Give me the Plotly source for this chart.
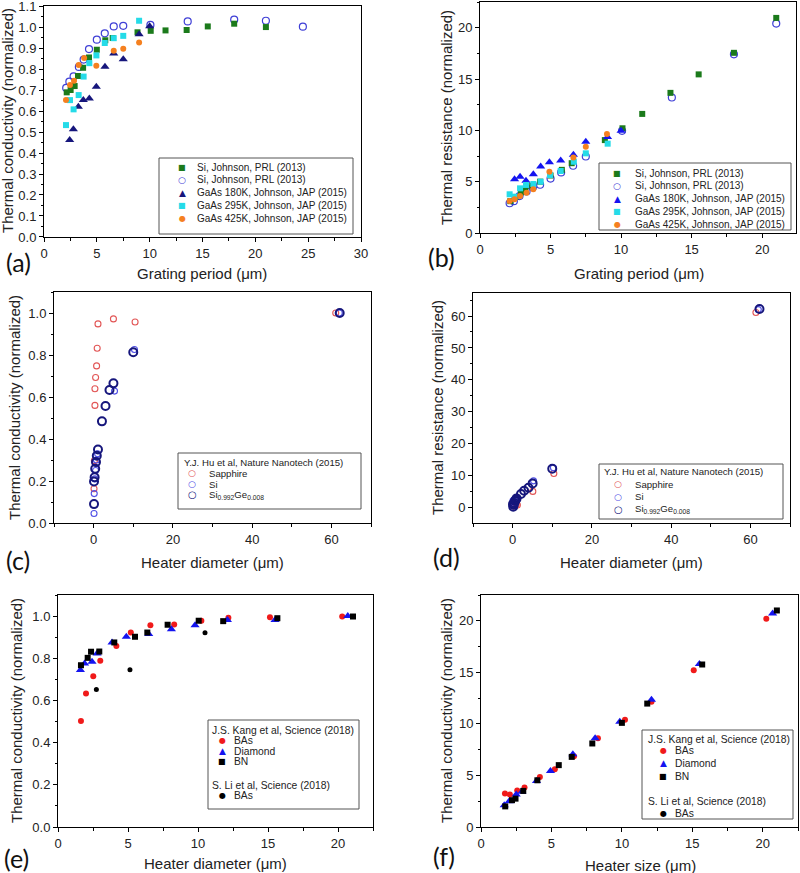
import plotly.graph_objects as go

W, H = 800, 873
FONT = "Arial, Liberation Sans, sans-serif"

# ---------------- data ----------------
# (a) thermal conductivity vs grating period
a_si_sq_x = [2.15, 2.52, 2.9, 3.22, 3.7, 4.26, 5.0, 5.8, 6.5, 8.85, 10.1, 11.5, 13.5, 15.5, 18.0, 21.0]
a_si_sq_y = [0.689, 0.700, 0.719, 0.767, 0.806, 0.855, 0.892, 0.937, 0.948, 0.975, 0.982, 0.984, 0.986, 1.003, 1.016, 1.000]
a_si_oc_x = [2.1, 2.4, 2.8, 3.3, 3.75, 4.26, 5.0, 5.75, 6.6, 7.5, 10.07, 13.6, 18.0, 21.0, 24.5]
a_si_oc_y = [0.710, 0.740, 0.765, 0.810, 0.845, 0.895, 0.940, 0.970, 1.003, 1.006, 1.010, 1.027, 1.035, 1.030, 1.002]
a_g180_x = [2.43, 2.78, 3.25, 3.72, 4.29, 4.95, 5.77, 6.6, 7.5, 9.0, 10.0]
a_g180_y = [0.462, 0.513, 0.620, 0.652, 0.660, 0.716, 0.811, 0.874, 0.847, 0.966, 1.004]
a_g295_x = [2.08, 2.46, 2.8, 3.28, 3.75, 4.29, 4.96, 5.75, 6.6, 7.5, 9.0]
a_g295_y = [0.533, 0.652, 0.608, 0.676, 0.764, 0.828, 0.865, 0.924, 0.947, 0.958, 1.030]
a_g425_x = [2.08, 2.46, 2.84, 3.28, 3.8, 4.95, 6.6, 7.5, 9.0]
a_g425_y = [0.652, 0.724, 0.744, 0.819, 0.853, 0.816, 0.887, 0.897, 0.927]

# (b) thermal resistance vs grating period
b_si_sq_x = [2.15, 2.52, 2.9, 3.22, 3.7, 4.26, 5.0, 5.8, 6.5, 8.85, 10.1, 11.5, 13.5, 15.5, 18.0, 21.0]
b_si_sq_y = [3.1, 3.5, 3.95, 4.2, 4.6, 5.0, 5.6, 6.15, 6.8, 9.05, 10.2, 11.6, 13.65, 15.45, 17.55, 20.95]
b_si_oc_x = [2.1, 2.4, 2.8, 3.3, 3.75, 4.26, 5.0, 5.75, 6.6, 7.5, 10.07, 13.6, 18.0, 21.0]
b_si_oc_y = [2.9, 3.1, 3.6, 4.05, 4.45, 4.7, 5.3, 5.9, 6.55, 7.45, 9.95, 13.2, 17.4, 20.4]
b_g180_x = [2.45, 2.84, 3.26, 3.78, 4.3, 4.92, 5.72, 6.62, 7.5, 9.04, 10.0]
b_g180_y = [5.23, 5.49, 5.1, 5.72, 6.47, 6.9, 7.05, 7.63, 8.9, 9.35, 9.95]
b_g295_x = [2.1, 2.45, 2.84, 3.26, 3.78, 4.3, 4.96, 5.72, 6.65, 7.5, 9.05]
b_g295_y = [3.77, 3.54, 4.35, 4.68, 4.77, 5.0, 5.65, 6.04, 6.94, 7.76, 8.7]
b_g425_x = [2.1, 2.45, 2.84, 3.3, 3.78, 4.92, 6.62, 7.5, 9.0]
b_g425_y = [3.12, 3.28, 3.6, 3.93, 4.25, 5.97, 7.35, 8.4, 9.65]

# (c) thermal conductivity vs heater diameter
c_sap_x = [0.1, 0.2, 0.33, 0.33, 0.5, 0.75, 0.9, 1.1, 5.0, 10.46, 61.1]
c_sap_y = [0.163, 0.297, 0.560, 0.639, 0.693, 0.748, 0.832, 0.948, 0.972, 0.957, 1.0]
c_si_x = [0.1, 0.15, 0.3, 0.5, 0.7, 1.0, 5.27, 10.3, 62.0]
c_si_y = [0.045, 0.140, 0.210, 0.250, 0.300, 0.330, 0.628, 0.826, 1.0]
c_sige_x = [0.1, 0.1, 0.25, 0.4, 0.6, 0.8, 1.1, 2.1, 3.0, 4.0, 5.0, 10.0, 62.1]
c_sige_y = [0.090, 0.198, 0.218, 0.258, 0.290, 0.320, 0.350, 0.484, 0.557, 0.633, 0.665, 0.813, 1.0]

# (d) thermal resistance vs heater diameter
d_sap_x = [0.1, 0.3, 0.5, 0.9, 1.2, 5.1, 10.4, 61.4]
d_sap_y = [0.6, 0.5, 0.75, 1.1, 0.8, 5.1, 10.7, 61.1]
d_si_x = [0.1, 0.3, 0.5, 1.0, 5.27, 10.3, 62.0]
d_si_y = [2.2, 1.4, 2.0, 3.0, 8.4, 12.5, 62.0]
d_sige_x = [0.1, 0.15, 0.25, 0.4, 0.6, 0.8, 1.0, 2.1, 2.9, 4.0, 5.05, 10.0, 62.3]
d_sige_y = [1.1, 0.3, 0.9, 1.5, 2.1, 2.5, 2.9, 4.3, 5.3, 6.25, 7.6, 12.2, 62.2]

# (e) thermal conductivity vs heater diameter (BAs, diamond, BN)
e_bas_x = [1.64, 2.0, 2.52, 3.02, 4.17, 5.2, 6.6, 8.3, 10.24, 12.17, 15.14, 20.3]
e_bas_y = [0.503, 0.633, 0.715, 0.788, 0.858, 0.922, 0.956, 0.960, 0.978, 0.992, 0.994, 0.998]
e_dia_x = [1.6, 1.9, 2.43, 2.79, 3.86, 4.88, 6.48, 8.1, 9.79, 12.1, 15.5, 20.7]
e_dia_y = [0.744, 0.775, 0.783, 0.823, 0.875, 0.902, 0.915, 0.938, 0.956, 0.981, 0.981, 1.0]
e_bn_x = [1.64, 2.12, 2.36, 2.95, 4.02, 5.5, 6.38, 7.83, 10.05, 11.8, 15.67, 21.07]
e_bn_y = [0.767, 0.802, 0.831, 0.832, 0.875, 0.902, 0.922, 0.959, 0.978, 0.976, 0.990, 0.998]
e_li_x = [2.74, 5.14, 10.5]
e_li_y = [0.652, 0.745, 0.921]

# (f) vs heater size
f_bas_x = [1.7, 2.05, 2.57, 3.09, 4.18, 5.24, 6.6, 8.3, 10.22, 12.1, 15.1, 20.25]
f_bas_y = [3.24, 3.14, 3.53, 3.82, 4.85, 5.6, 6.85, 8.6, 10.39, 12.15, 15.2, 20.2]
f_dia_x = [1.65, 2.0, 2.5, 2.9, 3.94, 4.93, 6.52, 8.1, 9.85, 12.1, 15.5, 20.7]
f_dia_y = [2.1, 2.5, 3.14, 3.43, 4.47, 5.44, 7.05, 8.6, 10.2, 12.33, 15.8, 20.7]
f_bn_x = [1.72, 2.2, 2.45, 3.0, 4.0, 5.52, 6.44, 7.9, 10.0, 11.8, 15.7, 21.0]
f_bn_y = [2.0, 2.6, 2.75, 3.5, 4.53, 6.0, 6.8, 8.1, 10.1, 11.97, 15.76, 21.0]

# ---------------- colours ----------------
GREEN = "#1b7a1b"
PURP = "#3f3fd6"
NAVY = "#16167c"
BLUE = "#1414f0"
CYAN = "#25dbe8"
ORANGE = "#f5801f"
LRED = "#e25656"
LBLUE = "#5050e6"
RED = "#f01a1a"
BLACK = "#000000"

# ---------------- layout geometry (pixel boxes) ----------------
panels = {
    1: dict(x=(44, 361), y=(6, 237), xr=[0, 30], yr=[-0.0001, 1.1003], xd=5, yd=0.1, yf=".1f"),
    2: dict(x=(480, 796), y=(2, 233), xr=[0, 22.4], yr=[0, 22.5], xd=5, yd=5, yf=""),
    3: dict(x=(54, 371), y=(292, 523), xr=[-10, 70], yr=[0, 1.1], xd=20, yd=0.2, yf=".1f"),
    4: dict(x=(473, 790), y=(293, 523), xr=[-10, 70], yr=[-4.8, 67.2], xd=20, yd=10, yf=""),
    5: dict(x=(58, 373), y=(595, 827), xr=[0, 22.5], yr=[0, 1.1], xd=5, yd=0.2, yf=".1f"),
    6: dict(x=(481, 798), y=(595, 827), xr=[0, 22.5], yr=[0, 22.5], xd=5, yd=5, yf=""),
}

fig = go.Figure()


def add(n, x, y, symbol, color, size, lw=0):
    sfx = "" if n == 1 else str(n)
    if symbol.endswith("open"):
        marker = dict(symbol=symbol, size=size, color=color, line=dict(width=lw, color=color))
    else:
        marker = dict(symbol=symbol, size=size, color=color, line=dict(width=0))
    fig.add_trace(go.Scatter(x=x, y=y, mode="markers", xaxis="x" + sfx, yaxis="y" + sfx,
                             marker=marker, showlegend=False, hoverinfo="skip"))


# (a)
add(1, a_si_oc_x, a_si_oc_y, "circle-open", PURP, 7, 1.2)
add(1, a_si_sq_x, a_si_sq_y, "square", GREEN, 6)
add(1, a_g180_x, a_g180_y, "triangle-up", NAVY, 8)
add(1, a_g295_x, a_g295_y, "square", CYAN, 6)
add(1, a_g425_x, a_g425_y, "circle", ORANGE, 6)
# (b)
add(2, b_si_oc_x, b_si_oc_y, "circle-open", PURP, 7, 1.2)
add(2, b_si_sq_x, b_si_sq_y, "square", GREEN, 6)
add(2, b_g180_x, b_g180_y, "triangle-up", BLUE, 8)
add(2, b_g295_x, b_g295_y, "square", CYAN, 6)
add(2, b_g425_x, b_g425_y, "circle", ORANGE, 6)
# (c)
add(3, c_sap_x, c_sap_y, "circle-open", LRED, 6, 1.1)
add(3, c_si_x, c_si_y, "circle-open", LBLUE, 6, 1.1)
add(3, c_sige_x, c_sige_y, "circle-open", NAVY, 8, 2)
# (d)
add(4, d_sap_x, d_sap_y, "circle-open", LRED, 6, 1.1)
add(4, d_si_x, d_si_y, "circle-open", LBLUE, 6, 1.1)
add(4, d_sige_x, d_sige_y, "circle-open", NAVY, 8, 2)
# (e)
add(5, e_bas_x, e_bas_y, "circle", RED, 6)
add(5, e_dia_x, e_dia_y, "triangle-up", BLUE, 8)
add(5, e_bn_x, e_bn_y, "square", BLACK, 6)
add(5, e_li_x, e_li_y, "circle", BLACK, 5)
# (f)
add(6, f_bas_x, f_bas_y, "circle", RED, 6)
add(6, f_dia_x, f_dia_y, "triangle-up", BLUE, 8)
add(6, f_bn_x, f_bn_y, "square", BLACK, 6)

layout = dict(width=W, height=H, margin=dict(l=0, r=0, t=0, b=0), autosize=False,
              paper_bgcolor="white", plot_bgcolor="white", template="none",
              font=dict(family=FONT, size=13, color="#222"))


def axis_common(dtick, rng, fmt, domain, anchor):
    ax = dict(domain=domain, anchor=anchor, range=rng, showline=True, linecolor="black",
              linewidth=1, mirror=True, ticks="outside", ticklen=4, tickwidth=1,
              tickcolor="black", showgrid=False, zeroline=False, tick0=0, dtick=dtick,
              ticklabeloverflow="allow",
              tickfont=dict(family=FONT, size=13, color="#222"),
              minor=dict(ticks="outside", ticklen=2.5, tickcolor="black", dtick=dtick / 2,
                         tick0=0, showgrid=False))
    if fmt:
        ax["tickformat"] = fmt
    return ax


for n, p in panels.items():
    sfx = "" if n == 1 else str(n)
    xd = [p["x"][0] / W, p["x"][1] / W]
    yd = [1 - p["y"][1] / H, 1 - p["y"][0] / H]
    layout["xaxis" + sfx] = axis_common(p["xd"], p["xr"], "", xd, "y" + sfx)
    layout["yaxis" + sfx] = axis_common(p["yd"], p["yr"], p["yf"], yd, "x" + sfx)

fig.update_layout(**layout)

annotations = []
shapes = []


def txt(xp, yp, text, size=15, angle=0, family=FONT, xa="center", ya="middle", color="#222", weight=None):
    f = dict(family=family, size=size, color=color)
    if weight:
        f["weight"] = weight
    annotations.append(dict(x=xp / W, y=1 - yp / H, xref="paper", yref="paper", text=text,
                            showarrow=False, textangle=angle, font=f, xanchor=xa, yanchor=ya))


# axis titles
xt = "Grating period (\u03bcm)"
txt(202, 273, xt)
txt(639, 273, xt)
txt(212, 562, "Heater diameter (\u03bcm)")
txt(631, 562, "Heater diameter (\u03bcm)")
txt(215, 863, "Heater diameter (\u03bcm)")
txt(640, 865, "Heater size (\u03bcm)")
txt(8, 121, "Thermal conductivity (normalized)", angle=-90)
txt(447, 118, "Thermal resistance (normalized)", angle=-90)
txt(14, 408, "Thermal conductivity (normalized)", angle=-90)
txt(437, 408, "Thermal resistance (normalized)", angle=-90)
txt(16, 711, "Thermal conductivity (normalized)", angle=-90)
txt(446, 711, "Thermal conductivity (normalized)", angle=-90)

# panel labels
PL = "Lato, Open Sans, sans-serif"
for xp, yp, t in [(4, 262, "(a)"), (426, 257, "(b)"), (4, 560, "(c)"), (431, 557, "(d)"),
                  (2, 858, "(e)"), (431, 856, "(f)")]:
    txt(xp, yp, t, size=25, family=PL, xa="left", color="#111")

SYMF = "DejaVu Sans, sans-serif"
GLYPH = {"sq": ("\u25a0", 8), "oc": ("\u25cb", 9), "tri": ("\u25b2", 9), "dot": ("\u25cf", 8),
         "ocs": ("\u25cb", 9), "ocb": ("\u25cb", 10)}


def legend(box, head_x, sym_x, text_x, rows, fs=10):
    x0, y0, x1, y1 = box
    shapes.append(dict(type="rect", xref="paper", yref="paper", x0=x0 / W, x1=x1 / W,
                       y0=1 - y1 / H, y1=1 - y0 / H, line=dict(color="#555", width=1),
                       fillcolor="white", layer="above"))
    for r in rows:
        yp, kind, color, label = r
        if kind is None:
            txt(head_x, yp, label, size=fs, xa="left")
        else:
            g, gs = GLYPH[kind]
            txt(sym_x, yp, g, size=gs, family=SYMF, color=color,
                weight="bold" if kind == "ocb" else None)
            txt(text_x, yp, label, size=fs, xa="left")


leg_ab = ["Si, Johnson, PRL (2013)", "Si, Johnson, PRL (2013)", "GaAs 180K, Johnson, JAP (2015)",
          "GaAs 295K, Johnson, JAP (2015)", "GaAs 425K, Johnson, JAP (2015)"]
legend((159, 158, 353, 234), 182, 182, 195,
       [(167, "sq", GREEN, leg_ab[0]), (180, "oc", PURP, leg_ab[1]), (192.7, "tri", NAVY, leg_ab[2]),
        (205.3, "sq", CYAN, leg_ab[3]), (218.3, "dot", ORANGE, leg_ab[4])])
legend((599, 163, 791, 230), 617, 617, 633,
       [(173.3, "sq", GREEN, leg_ab[0]), (185.7, "oc", PURP, leg_ab[1]), (199, "tri", BLUE, leg_ab[2]),
        (211, "sq", CYAN, leg_ab[3]), (224.3, "dot", ORANGE, leg_ab[4])])

sige = "Si<sub>0.992</sub>Ge<sub>0.008</sub>"
hu = "Y.J. Hu et al, Nature Nanotech (2015)"
legend((178, 453, 361, 509), 182, 192, 207,
       [(462.7, None, None, hu), (473.3, "ocs", LRED, "Sapphire"), (484, "ocs", LBLUE, "Si"),
        (494.8, "ocb", NAVY, sige)], fs=9.6)
legend((599, 464, 783, 519), 602, 618, 633,
       [(471.7, None, None, hu), (484, "ocs", LRED, "Sapphire"), (496.7, "ocs", LBLUE, "Si"),
        (509, "ocb", NAVY, sige)], fs=9.6)

kang = "J.S. Kang et al, Science (2018)"
li = "S. Li et al, Science (2018)"
legend((208, 720, 359, 809), 210, 222, 232,
       [(730, None, None, kang), (740.7, "dot", RED, "BAs"), (751, "tri", BLUE, "Diamond"),
        (761.7, "sq", BLACK, "BN"), (785, None, None, li), (795.7, "dot", BLACK, "BAs")], fs=10.3)
legend((642, 730, 793, 819), 646, 663, 673,
       [(739, None, None, kang), (750.7, "dot", RED, "BAs"), (763.3, "tri", BLUE, "Diamond"),
        (776.7, "sq", BLACK, "BN"), (801, None, None, li), (813.3, "dot", BLACK, "BAs")], fs=10.3)

fig.update_layout(annotations=annotations, shapes=shapes)

fig.write_html("out.html", config={"displayModeBar": False},
               post_script="document.body.style.margin='0';")
